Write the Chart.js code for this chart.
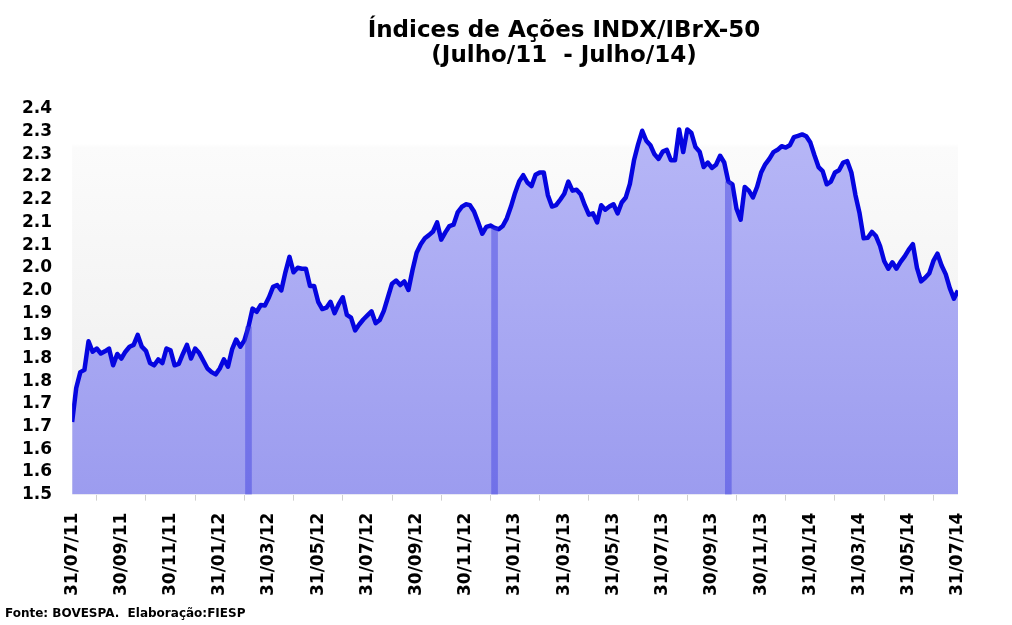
<!DOCTYPE html>
<html>
<head>
<meta charset="utf-8">
<script src="https://cdn.jsdelivr.net/npm/chart.js@4.4.1/dist/chart.umd.min.js"></script>
<style>
  html, body { margin: 0; padding: 0; background: #fff; }
  #wrap { width: 1012px; height: 625px; }
</style>
</head>
<body>
<div id="wrap"><canvas id="indexChart"></canvas></div>
<script>
// Índices de Ações INDX/IBrX-50, jul/2011 - jul/2014
const titleLines = ["Índices de Ações INDX/IBrX-50", "(Julho/11  - Julho/14)"];
const sourceNote = "Fonte: BOVESPA.  Elaboração:FIESP";

// x tick labels, one every 2 months
const monthLabels = ["31/07/11", "30/09/11", "30/11/11", "31/01/12", "31/03/12", "31/05/12", "31/07/12",
  "30/09/12", "30/11/12", "31/01/13", "31/03/13", "31/05/13", "31/07/13", "30/09/13", "30/11/13",
  "31/01/14", "31/03/14", "31/05/14", "31/07/14"];

// y tick labels (0.05 steps, shown with one decimal like the original)
const yTickLabels = ["1.5", "1.6", "1.6", "1.7", "1.7", "1.8", "1.8", "1.9", "1.9",
  "2.0", "2.0", "2.1", "2.1", "2.2", "2.2", "2.3", "2.3", "2.4"];

// INDX/IBrX-50 ratio, 6 readings per month
const samplesPerMonth = 6;
const ratioValues = [
  1.66, 1.735, 1.77, 1.775, 1.838, 1.815, 1.822, 1.811, 1.816, 1.822,
  1.785, 1.81, 1.80, 1.815, 1.826, 1.83, 1.852, 1.826, 1.817, 1.79,
  1.785, 1.798, 1.79, 1.822, 1.818, 1.785, 1.788, 1.81, 1.83, 1.80,
  1.822, 1.812, 1.795, 1.778, 1.77, 1.765, 1.778, 1.798, 1.782, 1.82,
  1.842, 1.826, 1.84, 1.87, 1.91, 1.903, 1.918, 1.917, 1.935, 1.958,
  1.962, 1.95, 1.99, 2.024, 1.99, 2.00, 1.998, 1.998, 1.96, 1.96,
  1.925, 1.909, 1.912, 1.925, 1.90, 1.92, 1.935, 1.896, 1.89, 1.862,
  1.875, 1.886, 1.895, 1.904, 1.878, 1.885, 1.905, 1.935, 1.965, 1.972,
  1.962, 1.97, 1.951, 1.995, 2.033, 2.052, 2.065, 2.072, 2.08, 2.10,
  2.062, 2.078, 2.092, 2.095, 2.122, 2.134, 2.14, 2.138, 2.124, 2.10,
  2.075, 2.09, 2.093, 2.088, 2.085, 2.092, 2.109, 2.135, 2.165, 2.19,
  2.204, 2.188, 2.18, 2.205, 2.21, 2.21, 2.16, 2.135, 2.138, 2.15,
  2.163, 2.19, 2.17, 2.172, 2.162, 2.138, 2.117, 2.12, 2.10, 2.138,
  2.128, 2.135, 2.14, 2.12, 2.144, 2.155, 2.185, 2.237, 2.272, 2.302,
  2.28, 2.27, 2.25, 2.24, 2.256, 2.26, 2.237, 2.237, 2.305, 2.255,
  2.305, 2.297, 2.266, 2.256, 2.222, 2.232, 2.22, 2.227, 2.247, 2.232,
  2.19, 2.184, 2.13, 2.106, 2.178, 2.17, 2.155, 2.178, 2.21, 2.228,
  2.24, 2.255, 2.26, 2.268, 2.265, 2.27, 2.288, 2.291, 2.294, 2.29,
  2.276, 2.248, 2.222, 2.213, 2.184, 2.19, 2.21, 2.215, 2.232, 2.235,
  2.21, 2.16, 2.12, 2.065, 2.066, 2.079, 2.07, 2.048, 2.015, 1.998,
  2.012, 1.998, 2.013, 2.025, 2.04, 2.052, 2.0, 1.97, 1.978, 1.988,
  2.015, 2.031, 2.005, 1.986, 1.955, 1.932, 1.95
];

// readings where the original area shows a darker band
const bandIdx = [43, 103, 160];

const linePoints = ratioValues.map((v, i) => ({ x: i / samplesPerMonth, y: v }));
const bandPoints = bandIdx.map(i => ({ x: i / samplesPerMonth, y: ratioValues[i] }));

const FONT = "'DejaVu Sans', sans-serif";

// plot background: white fading to light gray
const plotBg = {
  id: "plotBg",
  beforeDraw(chart) {
    const { ctx, chartArea: a } = chart;
    const g = ctx.createLinearGradient(0, a.top, 0, a.bottom);
    g.addColorStop(0, "#ffffff");
    g.addColorStop(0.09, "#ffffff");
    g.addColorStop(0.1, "#fbfbfb");
    g.addColorStop(1, "#ececec");
    ctx.save();
    ctx.fillStyle = g;
    ctx.fillRect(a.left, a.top, a.right - a.left, a.bottom - a.top);
    ctx.restore();
  }
};

// title and source line
const textPlugin = {
  id: "texts",
  afterDraw(chart) {
    const ctx = chart.ctx;
    ctx.save();
    ctx.fillStyle = "#000";
    ctx.textAlign = "center";
    ctx.font = "bold 23px " + FONT;
    ctx.fillText(titleLines[0], 564, 37);
    ctx.fillText(titleLines[1], 564, 62);
    ctx.textAlign = "left";
    ctx.font = "bold 12px " + FONT;
    ctx.fillText(sourceNote, 5, 617);
    ctx.restore();
  }
};

function areaFill(context) {
  const a = context.chart.chartArea;
  if (!a) return "#a0a0f0";
  const g = context.chart.ctx.createLinearGradient(0, a.top, 0, a.bottom);
  g.addColorStop(0, "#b8b8f7");
  g.addColorStop(1, "#9c9cef");
  return g;
}

new Chart(document.getElementById("indexChart"), {
  type: "line",
  data: {
    datasets: [
      {
        label: "INDX/IBrX-50",
        data: linePoints,
        borderColor: "#0505e0",
        borderWidth: 4.5,
        borderJoinStyle: "round",
        backgroundColor: areaFill,
        fill: "start",
        pointRadius: 0,
        tension: 0,
        order: 1
      },
      {
        type: "bar",
        label: "band",
        data: bandPoints,
        backgroundColor: "rgba(60,60,225,0.45)",
        barThickness: 6,
        order: 0
      }
    ]
  },
  options: {
    responsive: true, maintainAspectRatio: false,
    animation: false,
    layout: { padding: { top: 109, left: 2, right: 54, bottom: 17 } },
    plugins: { legend: { display: false }, tooltip: { enabled: false } },
    scales: {
      x: {
        type: "linear", min: 0, max: 36, offset: false,
        grid: { display: true, drawOnChartArea: false, drawTicks: true, tickLength: 6, color: "#d0d0d0" },
        border: { display: false },
        ticks: {
          stepSize: 2, autoSkip: false, maxRotation: 90, minRotation: 90, padding: 12,
          color: "#000", font: { family: FONT, size: 17, weight: "bold" },
          callback: (v, i) => monthLabels[i]
        }
      },
      y: {
        min: 1.5, max: 2.35,
        grid: { display: false, drawTicks: false },
        border: { display: false },
        ticks: {
          stepSize: 0.05, autoSkip: false, padding: 20,
          color: "#000", font: { family: FONT, size: 17, weight: "bold" },
          callback: (v, i) => yTickLabels[i]
        }
      }
    }
  },
  plugins: [plotBg, textPlugin]
});
</script>
</body>
</html>
